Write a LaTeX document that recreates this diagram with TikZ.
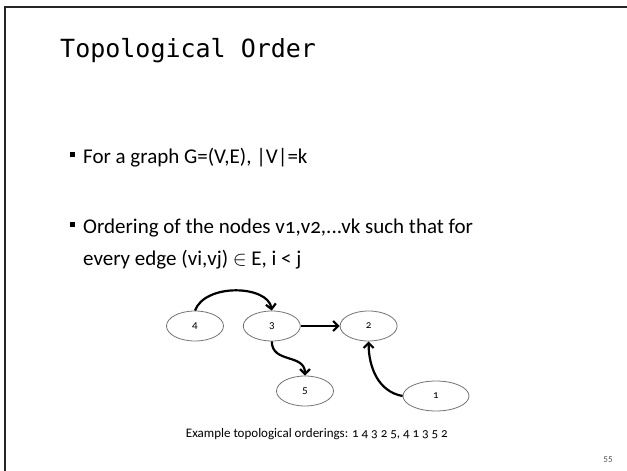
\documentclass[tikz,border=0pt]{standalone}
\usepackage{fontspec}
\setmainfont{Carlito}[Numbers=OldStyle]
\newfontfamily\titlefont{DejaVu Sans Mono}
\usepackage{tikz}
\usetikzlibrary{arrows.meta, positioning, shapes.geometric, calc}

\begin{document}
\begin{tikzpicture}[
  x=1pt, y=-1pt,
  vert/.style={ellipse, draw=black!55, line width=0.8pt, minimum width=57pt,
               minimum height=30pt, inner sep=0pt, font=\fontsize{11}{11}\selectfont},
  arr/.style={-{Straight Barb[length=5pt, width=10pt]}, line width=2.2pt},
  bodytext/.style={anchor=base west, inner sep=0pt, font=\fontsize{21}{21}\selectfont},
  bullet/.style={fill=black, minimum size=5pt, inner sep=0pt}
]
  \useasboundingbox (0,0) rectangle (627,471);
  % slide frame
  \draw[line width=2.5pt, black!85] (5,471) -- (5,7) -- (627,7);

  \node[anchor=base west, inner sep=0pt, font=\titlefont\fontsize{25}{25}\selectfont]
    (title) at (60,57) {Topological Order};

  \node[bullet] (b1) at (72,154.5) {};
  \node[bodytext] (t1) at (83,163) {For a graph G=(V,E), |V|=k};
  \node[bullet] (b2) at (72,224.5) {};
  \node[bodytext] (t2) at (83,233) {Ordering of the nodes v1,v2,...vk such that for};
  \node[bodytext] (t3) at (83,265) {every edge (vi,vj) $\in$ E, i < j};

  % the graph
  \node[vert] (n4) at (195,326) {4};
  \node[vert, right=19pt of n4] (n3) {3};
  \node[vert, right=39pt of n3] (n2) {2};
  \node[vert] (n5) at (305,391) {5};
  \node[vert, minimum width=66pt] (n1) at (436,396) {1};

  \draw[arr] (n4.north) .. controls (205,283) and (268,285) .. (n3.north);
  \draw[arr] (n3) -- (n2);
  \draw[arr] (n3.south) to[out=-90, in=90, looseness=1.2] (n5.north);
  \draw[arr] (n1.west) to[out=170, in=-90] (n2.south);

  \node[anchor=base east, inner sep=0pt, font=\fontsize{13}{13}\selectfont]
    (caption) at (448,437) {Example topological orderings: 1 4 3 2 5, 4 1 3 5 2};
  \node[font=\fontsize{9}{9}\selectfont, black!70] (pagenum) at (608,460) {55};
\end{tikzpicture}
\end{document}
